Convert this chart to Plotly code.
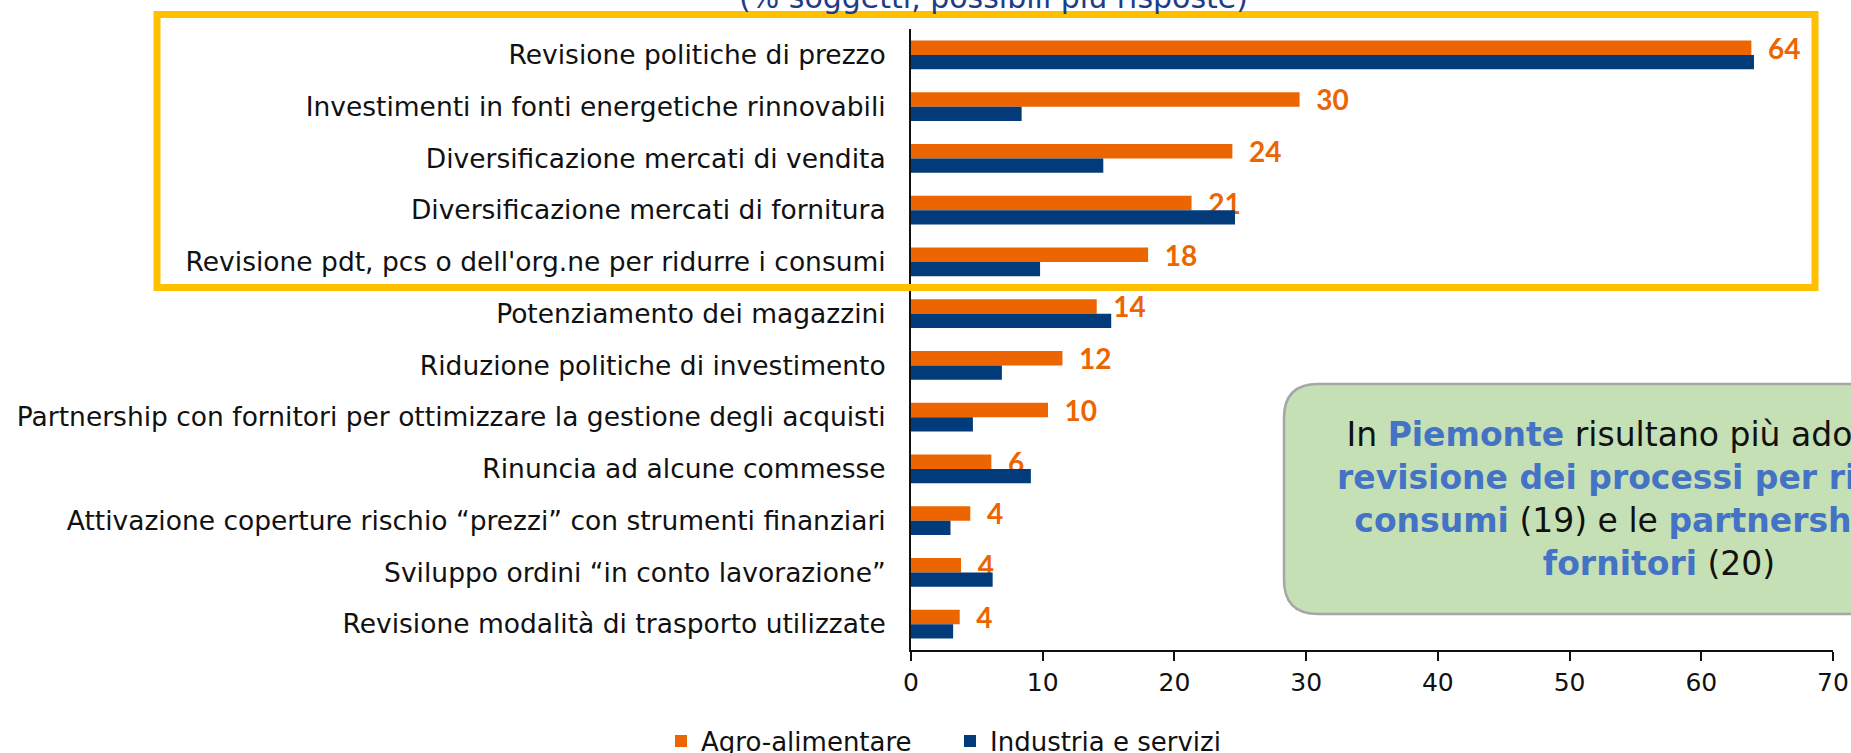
import plotly.graph_objects as go

# --- dati ---
categorie = [
    'Revisione politiche di prezzo',
    'Investimenti in fonti energetiche rinnovabili',
    'Diversificazione mercati di vendita',
    'Diversificazione mercati di fornitura',
    "Revisione pdt, pcs o dell'org.ne per ridurre i consumi",
    'Potenziamento dei magazzini',
    'Riduzione politiche di investimento',
    'Partnership con fornitori per ottimizzare la gestione degli acquisti',
    'Rinuncia ad alcune commesse',
    'Attivazione coperture rischio \u201cprezzi\u201d con strumenti finanziari',
    'Sviluppo ordini \u201cin conto lavorazione\u201d',
    'Revisione modalità di trasporto utilizzate',
]
agro = [63.8, 29.5, 24.4, 21.3, 18.0, 14.1, 11.5, 10.4, 6.1, 4.5, 3.8, 3.7]
etichette_agro = ['64', '30', '24', '21', '18', '14', '12', '10', '6', '4', '4', '4']
industria = [64.0, 8.4, 14.6, 24.6, 9.8, 15.2, 6.9, 4.7, 9.1, 3.0, 6.2, 3.2]
serie = ['Agro-alimentare', 'Industria e servizi']
tick_x = [0, 10, 20, 30, 40, 50, 60, 70]

ARANCIO = '#EC6500'
BLU = '#023B7A'
BLU_TESTO = '#4472C4'
FONT = 'DejaVu Sans'

W, H = 1851, 753
ML, MR, MT, MB = 911, 18, 29, 103
PW = W - ML - MR
PH = H - MT - MB


def px_x(x):
    return (x - ML) / PW


def px_y(y):
    return (H - MB - y) / PH


def rounded_rect(x0, y0, x1, y1, r):
    """path in coordinate paper a partire da pixel"""
    pts = [
        f'M {px_x(x0 + r)},{px_y(y0)}',
        f'L {px_x(x1 - r)},{px_y(y0)}',
        f'Q {px_x(x1)},{px_y(y0)} {px_x(x1)},{px_y(y0 + r)}',
        f'L {px_x(x1)},{px_y(y1 - r)}',
        f'Q {px_x(x1)},{px_y(y1)} {px_x(x1 - r)},{px_y(y1)}',
        f'L {px_x(x0 + r)},{px_y(y1)}',
        f'Q {px_x(x0)},{px_y(y1)} {px_x(x0)},{px_y(y1 - r)}',
        f'L {px_x(x0)},{px_y(y0 + r)}',
        f'Q {px_x(x0)},{px_y(y0)} {px_x(x0 + r)},{px_y(y0)}',
        'Z',
    ]
    return ' '.join(pts)


fig = go.Figure()

fig.add_trace(go.Bar(
    name=serie[0],
    y=categorie, x=agro,
    orientation='h',
    marker=dict(color=ARANCIO, line=dict(width=0)),
    text=etichette_agro,
    texttemplate='\u00a0\u00a0%{text}',
    textposition='outside',
    constraintext='none',
    textfont=dict(family='Lato', size=28, color=ARANCIO, weight='bold'),
    cliponaxis=False,
))
fig.add_trace(go.Bar(
    name=serie[1],
    y=categorie, x=industria,
    orientation='h',
    marker=dict(color=BLU, line=dict(width=0)),
))

# riquadro giallo attorno alle prime cinque voci
fig.add_shape(type='rect', xref='paper', yref='paper',
              x0=px_x(157), x1=px_x(1815), y0=px_y(14.5), y1=px_y(287.5),
              line=dict(color='#FFC000', width=7), fillcolor='rgba(0,0,0,0)',
              layer='above')

# box verde di commento
fig.add_shape(type='path', xref='paper', yref='paper',
              path=rounded_rect(1284, 384, 2040, 614, 34),
              line=dict(color='#A6A6A6', width=2.5), fillcolor='#C5E0B4',
              layer='above')

testo_box = (
    f'In <b><span style="color:{BLU_TESTO}">Piemonte</span></b> risultano più adottate la<br>'
    f'<b><span style="color:{BLU_TESTO}">revisione dei processi per ridurre i</span></b><br>'
    f'<b><span style="color:{BLU_TESTO}">consumi</span></b> (19) e le '
    f'<b><span style="color:{BLU_TESTO}">partnership con</span></b><br>'
    f'<b><span style="color:{BLU_TESTO}">fornitori</span></b> (20)'
)
fig.add_annotation(xref='paper', yref='paper', x=px_x(1659), y=px_y(499),
                   xanchor='center', yanchor='middle', showarrow=False,
                   text=testo_box, align='center',
                   font=dict(family=FONT, size=33, color='#111111'))

# titolo tagliato in alto
fig.add_annotation(xref='paper', yref='paper', x=px_x(993), y=px_y(17),
                   xanchor='center', yanchor='bottom', showarrow=False,
                   text='(% soggetti, possibili più risposte)',
                   font=dict(family=FONT, size=30, color='#1F3C88'))

fig.update_layout(
    width=W, height=H,
    margin=dict(l=ML, r=MR, t=MT, b=MB, pad=0, autoexpand=False),
    paper_bgcolor='white', plot_bgcolor='white',
    barmode='group', bargap=0.44, bargroupgap=0,
    font=dict(family=FONT, size=26, color='#111111'),
    showlegend=True,
    legend=dict(orientation='h', x=px_x(661), y=px_y(741), xanchor='left', yanchor='middle',
                font=dict(family=FONT, size=26, color='#111111'),
                itemwidth=30, tracegroupgap=0, entrywidth=244, entrywidthmode='pixels'),
    xaxis=dict(range=[0, 70], tickvals=tick_x, showgrid=False, zeroline=False,
               showline=True, linecolor='#111111', linewidth=2, automargin=False,
               ticks='outside', ticklen=9, tickwidth=2, tickcolor='#111111',
               tickfont=dict(family=FONT, size=25, color='#111111')),
    yaxis=dict(autorange='reversed', showgrid=False, zeroline=False, automargin=False,
               showline=True, linecolor='#111111', linewidth=2,
               ticks='', ticklabelstandoff=18,
               tickfont=dict(family=FONT, size=26.5, color='#111111')),
)

# la pagina generata ha un margine di 8px sul body: lo azzero
fig.write_html('out.html', config={'displayModeBar': False},
               post_script="document.body.style.margin='0px';")
